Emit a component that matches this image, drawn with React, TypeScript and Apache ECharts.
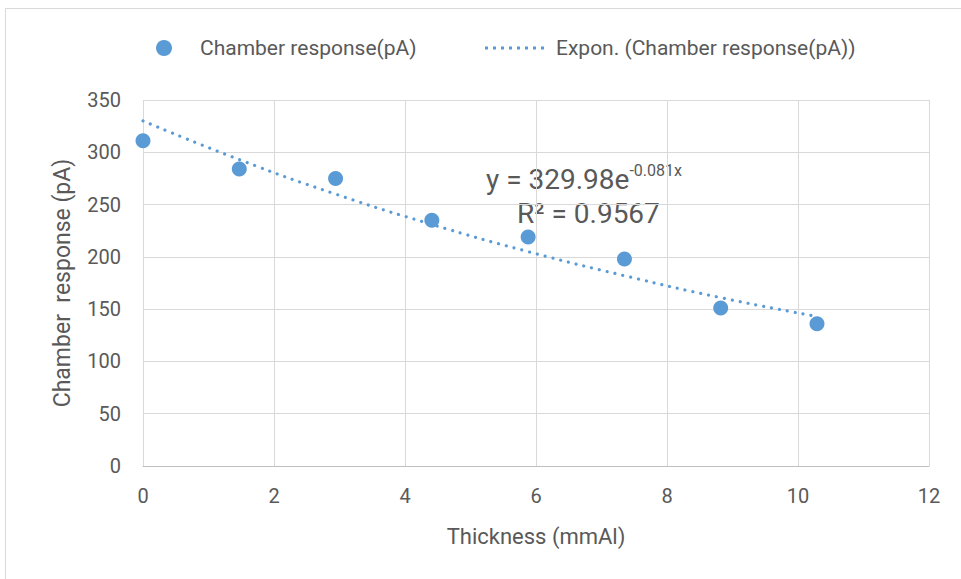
import React, { useEffect, useRef } from "react";
import * as echarts from "echarts";

const thickness = [0, 1.47, 2.94, 4.41, 5.88, 7.35, 8.82, 10.29];
const response = [311, 284, 275, 235, 219, 198, 151, 136];
// trend line values at each thickness
const trendValues = [330, 293, 260, 231, 205, 182, 161, 143];
const xTicks = [0, 2, 4, 6, 8, 10, 12];
const yTicks = [0, 50, 100, 150, 200, 250, 300, 350];

const FONT = "Roboto, 'Noto Sans', sans-serif";
const BLUE = "#5b9bd5";
const TEXT = "#595959";

// dotted legend icon: 8 small dots
const dotsPath =
  "path://" +
  Array.from({ length: 8 }, (_, i) => `M${i * 8},0h3v3h-3z`).join(" ");

export default function App() {
  const ref = useRef<HTMLDivElement>(null);
  useEffect(() => {
    if (!ref.current) return;
    const chart = echarts.init(ref.current, undefined, { renderer: "svg" });
    const scatterData = thickness.map((x, i) => [x, response[i]]);
    const trendData = thickness.map((x, i) => [x, trendValues[i]]);
    chart.setOption({
      animation: false,
      backgroundColor: "#ffffff",
      textStyle: { fontFamily: FONT },
      legend: [
        {
          top: 31,
          left: 151,
          itemWidth: 16,
          itemHeight: 16,
          textStyle: {
            fontFamily: FONT,
            fontSize: 21,
            lineHeight: 24,
            color: TEXT,
            padding: [0, 0, 0, 23],
          },
          data: [{ name: "Chamber response(pA)", icon: "circle", itemStyle: { color: BLUE } }],
        },
        {
          top: 31,
          left: 480,
          itemWidth: 59,
          itemHeight: 3,
          textStyle: {
            fontFamily: FONT,
            fontSize: 21,
            lineHeight: 24,
            color: TEXT,
            padding: [0, 0, 0, 7],
          },
          data: [
            {
              name: "Expon. (Chamber response(pA))",
              icon: dotsPath,
              itemStyle: { color: BLUE, borderWidth: 0 },
            },
          ],
        },
      ],
      grid: { left: 143, right: 32, top: 100, bottom: 113 },
      xAxis: {
        type: "value",
        min: xTicks[0],
        max: xTicks[xTicks.length - 1],
        interval: 2,
        name: "Thickness (mmAl)",
        nameLocation: "middle",
        nameGap: 59,
        nameTextStyle: { fontFamily: FONT, fontSize: 22, color: TEXT },
        axisLine: { show: true, lineStyle: { color: "#bfbfbf", width: 1 } },
        axisTick: { show: false },
        axisLabel: { fontFamily: FONT, fontSize: 20, color: TEXT, margin: 20 },
        splitLine: { show: true, lineStyle: { color: "#d9d9d9", width: 1 } },
      },
      yAxis: {
        type: "value",
        min: yTicks[0],
        max: yTicks[yTicks.length - 1],
        interval: 50,
        name: "Chamber  response (pA)",
        nameLocation: "middle",
        nameGap: 69,
        nameTextStyle: { fontFamily: FONT, fontSize: 23, color: TEXT },
        axisLine: { show: false },
        axisTick: { show: false },
        axisLabel: { fontFamily: FONT, fontSize: 20, color: TEXT, margin: 22 },
        splitLine: { show: true, lineStyle: { color: "#d9d9d9", width: 1 } },
      },
      series: [
        {
          name: "Expon. (Chamber response(pA))",
          type: "line",
          data: trendData,
          smooth: true,
          showSymbol: false,
          symbol: "none",
          itemStyle: { color: BLUE },
          lineStyle: { color: BLUE, width: 3.2, type: [0.01, 8], cap: "round" },
          z: 2,
        },
        {
          name: "Chamber response(pA)",
          type: "scatter",
          data: scatterData,
          symbol: "circle",
          symbolSize: 15,
          itemStyle: { color: BLUE, opacity: 1 },
          z: 3,
        },
      ],
      graphic: [
        {
          type: "rect",
          shape: { x: 5.5, y: 8.5, width: 1000, height: 600 },
          style: { fill: "none", stroke: "#d9d9d9", lineWidth: 1 },
          silent: true,
          z: -1,
        },
        {
          type: "text",
          left: 486,
          top: 162,
          style: {
            text: "{a|y = 329.98e}{s|-0.081x}",
            fontFamily: FONT,
            fill: TEXT,
            rich: {
              a: { fontFamily: FONT, fontSize: 28, lineHeight: 34, color: TEXT },
              s: { fontFamily: FONT, fontSize: 16, lineHeight: 34, verticalAlign: "top", color: TEXT },
            },
          },
        },
        {
          type: "text",
          left: 517,
          top: 199,
          style: { text: "R² = 0.9567", fontFamily: FONT, fontSize: 28, fill: TEXT },
        },
      ],
    });
    return () => chart.dispose();
  }, []);
  return (
    <div
      ref={ref}
      style={{ position: "fixed", left: 0, top: 0, width: 961, height: 579 }}
    />
  );
}
